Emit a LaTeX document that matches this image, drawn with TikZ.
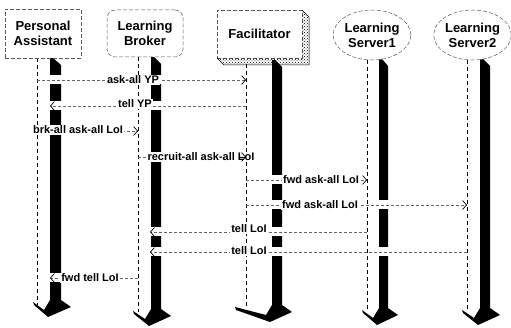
\documentclass[tikz,border=0pt]{standalone}
\usepackage{fontspec}
\setmainfont{Liberation Sans}
\usetikzlibrary{arrows.meta,patterns,shapes.geometric}
\newcommand\lifebar[5]{% xl xr top bot tipx
  \fill[black] (#1,#3) -- (#1+3,#3) -- (#2,#3+7) -- (#2,#4) -- (#2+10,#4+7) -- (#1-2,#4+17)
    -- (#5+1,#4+5) -- (#5,#4+2) -- (#1-6,#4+10) -- (#1,#4) -- cycle;}
\newcommand\bargap[3]{% xl xr y
  \fill[white] (#1-1,#3-4.5) rectangle (#2+1,#3+4.5);}
\begin{document}
\begin{tikzpicture}[x=1pt,y=-1pt,
  hd/.style={draw=black!65, dash pattern=on 4pt off 2pt, line width=0.5pt, fill=white,
    font=\fontsize{13}{15}\selectfont\bfseries, align=center, inner sep=0pt},
  life/.style={draw=black, line width=0.5pt, dash pattern=on 4pt off 3pt},
  msg/.style={draw=black!60, line width=0.5pt, dash pattern=on 3pt off 2pt,
    -{Straight Barb[length=4pt,width=9pt,line width=0.7pt,color=black]}},
  tip/.style={draw=black, solid, line width=0.5pt,
    -{Straight Barb[length=4pt,width=9pt,line width=0.7pt,color=black]}},
  lbl/.style={fill=white, inner sep=1pt, font=\fontsize{11}{12}\selectfont\bfseries}]
\useasboundingbox (0,0) rectangle (511,328);
% thin lifelines
\coordinate (pat) at (37,58);  \coordinate (pab) at (37,305);
\coordinate (lbt) at (138,57); \coordinate (lbb) at (138,312);
\coordinate (fct) at (246,64); \coordinate (fcb) at (246,307);
\coordinate (s1t) at (367,60); \coordinate (s1b) at (367,311);
\coordinate (s2t) at (467,60); \coordinate (s2b) at (467,311);
\draw[life] (pat) -- (pab);
\draw[life] (lbt) -- (lbb);
\draw[life] (fct) -- (fcb);
\draw[life] (s1t) -- (s1b);
\draw[life] (s2t) -- (s2b);
% activation bars with feet
\lifebar{50}{61}{58}{300}{33}
\lifebar{151}{161}{57}{309}{133}
\lifebar{272}{282}{60}{305}{235}
\lifebar{379}{388}{59}{308}{362}
\lifebar{480}{490}{59}{308}{462}
% gaps where messages cross the bars
\foreach \y in {80,106,131,278} {\bargap{50}{61}{\y}}
\foreach \y in {80,106,157,232,252} {\bargap{151}{161}{\y}}
\foreach \y in {180,205,232,252} {\bargap{272}{282}{\y}}
\foreach \y in {205,252} {\bargap{379}{388}{\y}}
% heads
\node[hd, minimum width=76pt, minimum height=49pt] (pa) at (43,33.5) {Personal\\Assistant};
\node[hd, rounded corners=8pt, minimum width=76pt, minimum height=47pt] (lb) at (145,33.5) {Learning\\Broker};
\node[hd, minimum width=85pt, minimum height=48pt] (fac) at (259.5,34) {Facilitator};
\node[hd, ellipse, minimum width=75pt, minimum height=50pt] (ls1) at (372,35) {Learning\\Server1};
\node[hd, ellipse, minimum width=75pt, minimum height=50pt] (ls2) at (472.5,35) {Learning\\Server2};
% messages
\draw[msg] (37,80) -- (246,80);
\draw[msg] (246,106) -- (50,106);
\draw[msg] (37,131) -- (138,131);
\draw[msg] (138,157) -- (246,157);
\draw[msg] (246,180) -- (367,180);
\draw[msg] (246,205) -- (467,205);
\draw[msg] (367,232) -- (150,232);
\draw[msg] (467,252) -- (150,252);
\draw[msg] (138,278) -- (50,278);
% labels
\node[lbl] (l1) at (133,80) {ask-all YP};
\node[lbl] (l2) at (135,104) {tell YP};
\node[lbl] (l3) at (78,130) {brk-all ask-all LoI};
\node[lbl] (l4) at (201,157) {recruit-all ask-all LoI};
\node[lbl] (l5) at (321,180) {fwd ask-all LoI};
\node[lbl] (l6) at (320,205) {fwd ask-all LoI};
\node[lbl] (l7) at (249,229) {tell LoI};
\node[lbl] (l8) at (249,251) {tell LoI};
\node[lbl] (l9) at (90,278) {fwd tell LoI};
\draw[tip] (240,157) -- (246,157);
% facilitator shadow (hatched)
\fill[pattern=crosshatch dots, pattern color=black] (302,10) -- (309,17) -- (309,65) -- (224,65) -- (217,58) -- (302,58) -- cycle;
\draw[black, line width=0.5pt] (302,10) -- (309,17) -- (309,65) -- (224,65) -- (217,58);
\end{tikzpicture}
\end{document}
